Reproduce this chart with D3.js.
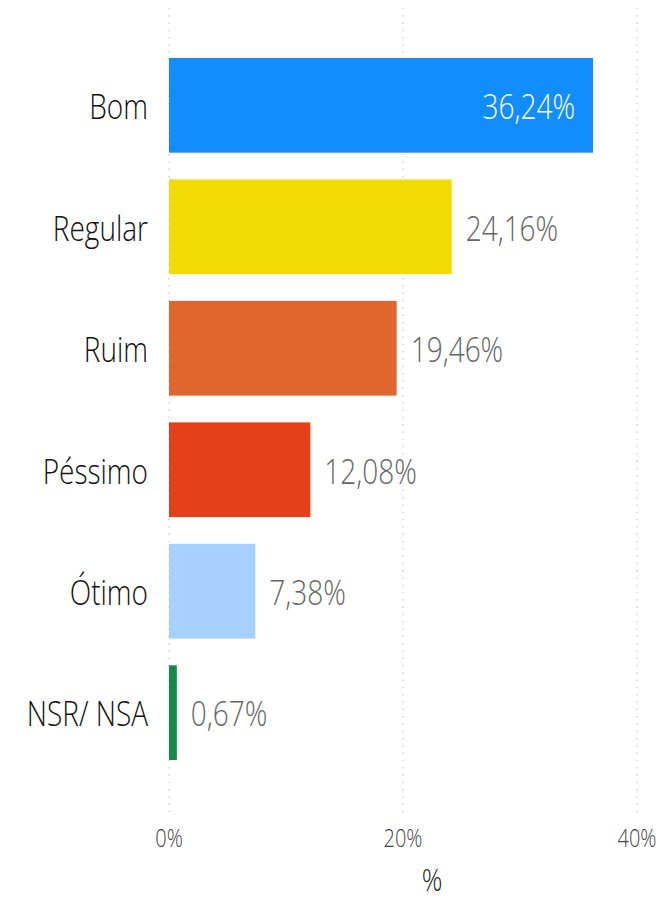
<!DOCTYPE html>
<html>
<head>
<meta charset="utf-8">
<script src="https://cdn.jsdelivr.net/npm/d3@7/dist/d3.min.js"></script>
<style>
  html, body { margin: 0; padding: 0; background: #fff; }
  svg { display: block; }
  text { font-family: "Open Sans", "Segoe UI", sans-serif; }
</style>
</head>
<body>
<script>
const categories = ["Bom", "Regular", "Ruim", "Péssimo", "Ótimo", "NSR/ NSA"];
const values = [36.24, 24.16, 19.46, 12.08, 7.38, 0.67];
const valueLabels = ["36,24%", "24,16%", "19,46%", "12,08%", "7,38%", "0,67%"];
const colors = ["#118DFF", "#F2DA04", "#E0662F", "#E5401A", "#A5D0FF", "#148A49"];
const tickValues = [0, 20, 40];
const tickLabels = ["0%", "20%", "40%"];
const axisTitle = "%";

const W = 666, H = 904;
const SX = 0.8; // horizontal condensation of text

const svg = d3.select("body").append("svg").attr("width", W).attr("height", H);

const x = d3.scaleLinear().domain([0, 40]).range([169, 637]);
const y = d3.scaleBand().domain(categories).range([44.6, 773.4]).paddingInner(0.22).paddingOuter(0.11);

function stext(parent, tx, ty, str, anchor, size, fill, weight) {
  const g = parent.append("g").attr("transform", `translate(${tx},${ty})`);
  g.append("text")
    .attr("transform", `scale(${SX},1)`)
    .attr("text-anchor", anchor)
    .attr("dominant-baseline", "central")
    .attr("font-size", size)
    .attr("font-weight", weight || 400)
    .attr("fill", fill)
    .text(str);
  return g;
}

// gridlines
svg.append("g").selectAll("line").data(tickValues).join("line")
  .attr("x1", d => x(d)).attr("x2", d => x(d))
  .attr("y1", 8).attr("y2", 812)
  .attr("stroke", "#c8c8c8").attr("stroke-width", 1.3)
  .attr("stroke-dasharray", "1.3,6");

// bars
svg.append("g").selectAll("rect").data(categories).join("rect")
  .attr("x", x(0))
  .attr("y", d => y(d))
  .attr("width", (d, i) => x(values[i]) - x(0))
  .attr("height", y.bandwidth())
  .attr("fill", (d, i) => colors[i]);

// category labels
const catG = svg.append("g");
categories.forEach((c, i) => {
  stext(catG, 148, y(c) + y.bandwidth() / 2, c, "end", 35, "#111111", 300);
});

// value labels
const valG = svg.append("g");
categories.forEach((c, i) => {
  const inside = i === 0;
  const xe = x(values[i]);
  if (inside) {
    stext(valG, xe - 18, y(c) + y.bandwidth() / 2, valueLabels[i], "end", 35, "#ffffff", 300);
  } else {
    stext(valG, xe + 14, y(c) + y.bandwidth() / 2, valueLabels[i], "start", 35, "#666666", 300);
  }
});

// x tick labels
const tickG = svg.append("g");
tickValues.forEach((t, i) => {
  stext(tickG, x(t), 838, tickLabels[i], "middle", 25, "#444444", 300);
});

// axis title
stext(svg, 432, 878, axisTitle, "middle", 32, "#222222", 300);
</script>
</body>
</html>
